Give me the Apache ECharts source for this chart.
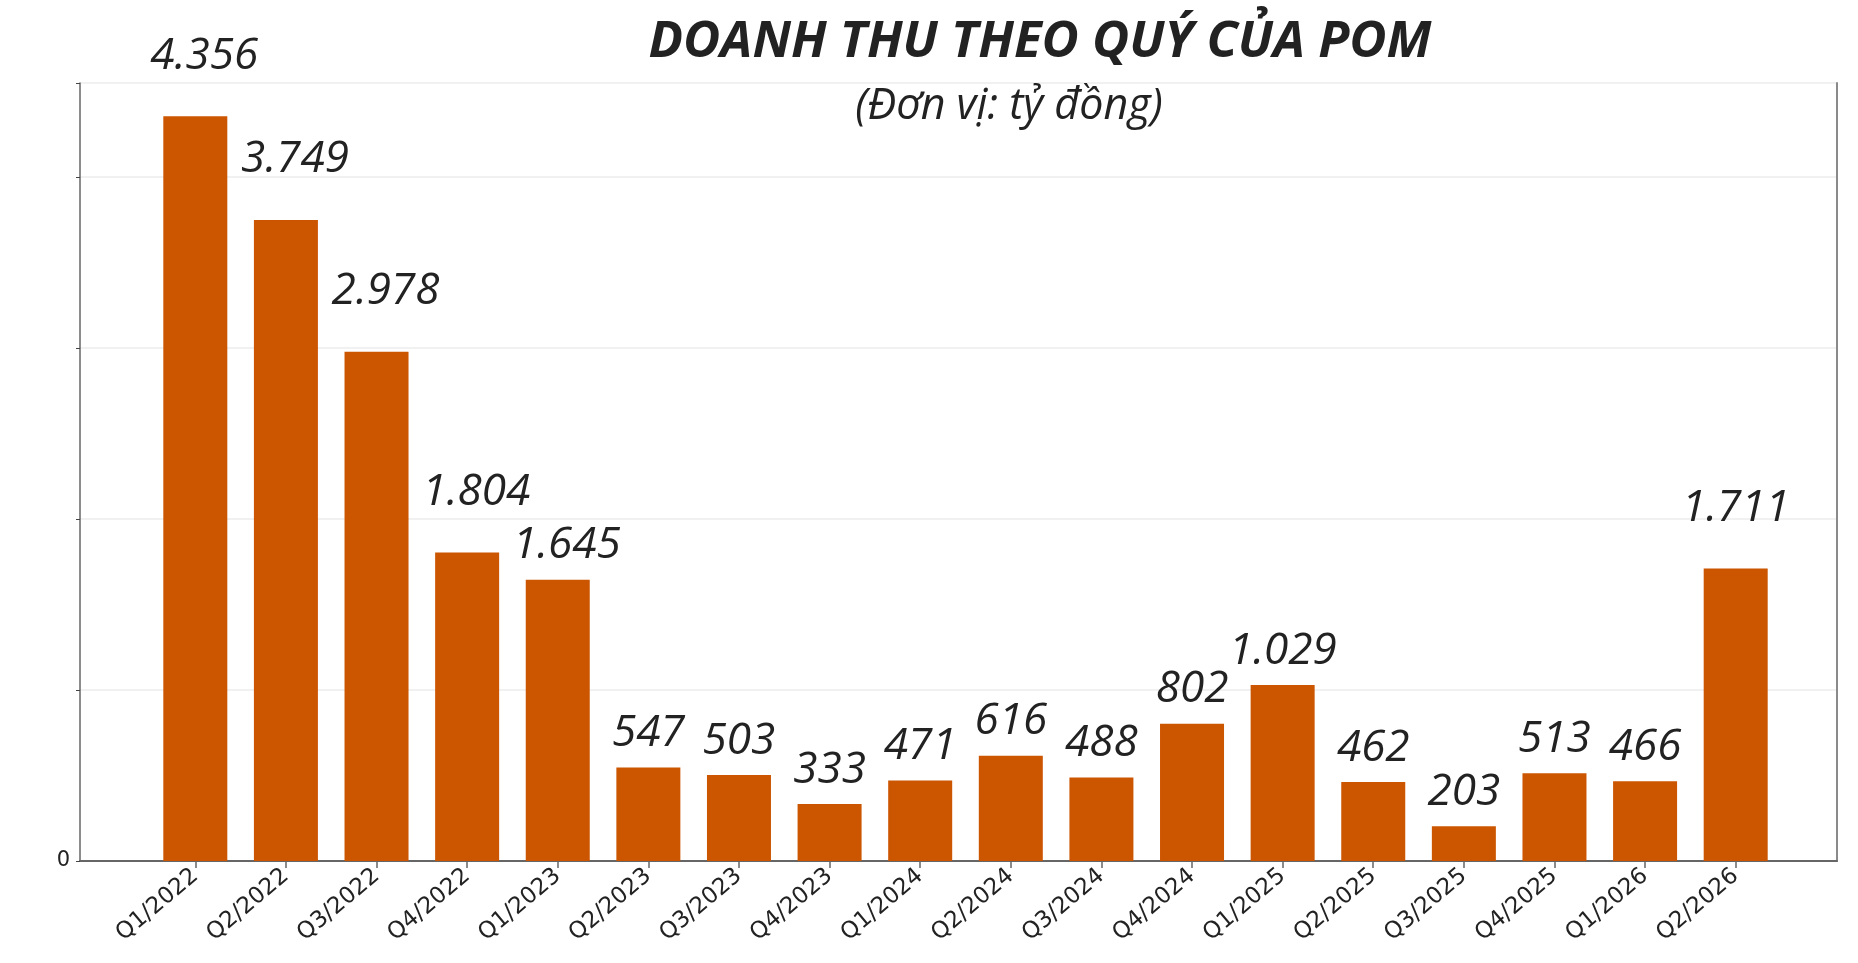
<!DOCTYPE html>
<html>
<head>
<meta charset="utf-8">
<script src="https://cdn.jsdelivr.net/npm/echarts@6/dist/echarts.min.js"></script>
<style>
html,body{margin:0;padding:0;background:#fff;}
#chart{width:1858px;height:963px;}
</style>
</head>
<body>
<div id="chart"></div>
<script>
const categories = ['Q1/2022','Q2/2022','Q3/2022','Q4/2022','Q1/2023','Q2/2023','Q3/2023','Q4/2023','Q1/2024','Q2/2024','Q3/2024','Q4/2024','Q1/2025','Q2/2025','Q3/2025','Q4/2025','Q1/2026','Q2/2026'];
const revenue = [4356, 3749, 2978, 1804, 1645, 547, 503, 333, 471, 616, 488, 802, 1029, 462, 203, 513, 466, 1711];
const valueLabels = ['4.356','3.749','2.978','1.804','1.645','547','503','333','471','616','488','802','1.029','462','203','513','466','1.711'];
const yMax = 4550;

const chart = echarts.init(document.getElementById('chart'));
const gridTop = 83, gridBottom = 102;

const barData = revenue.map((v, i) => ({
  value: v,
  label: {
    distance: v >= 1700 ? 38 : 12,
    offset: v >= 1600 && i < 5 ? [9, 0] : [0, 0],
    formatter: valueLabels[i]
  }
}));

chart.setOption({
  backgroundColor: '#ffffff',
  animation: false,
  title: [
    {
      text: 'DOANH THU THEO QUÝ CỦA POM',
      left: 1035, top: 12, textAlign: 'center',
      textStyle: { fontFamily: 'Open Sans', fontWeight: 'bold', fontStyle: 'italic', fontSize: 51, color: '#222222' }
    },
    {
      text: '(Đơn vị: tỷ đồng)',
      left: 1004, top: 80, textAlign: 'center',
      textStyle: { fontFamily: 'Open Sans', fontWeight: 'normal', fontStyle: 'italic', fontSize: 43, color: '#222222' }
    }
  ],
  grid: [
    { left: 80, right: 21, top: gridTop, bottom: gridBottom, containLabel: false },
    { left: 150, right: 77, top: gridTop, bottom: gridBottom, containLabel: false }
  ],
  xAxis: [
    {
      gridIndex: 0, type: 'value', min: 0, max: 1, position: 'bottom',
      axisLine: { show: true, lineStyle: { color: '#666666', width: 2 } },
      axisTick: { show: false }, axisLabel: { show: false }, splitLine: { show: false }
    },
    {
      gridIndex: 1, type: 'category', data: categories, position: 'bottom',
      axisLine: { show: false },
      axisTick: { show: true, alignWithLabel: true, length: 7, lineStyle: { color: '#666666', width: 1.5 } },
      axisLabel: { rotate: 40, fontFamily: 'DejaVu Sans', fontSize: 23, color: '#222222', margin: 12, interval: 0 },
      splitLine: { show: false }
    }
  ],
  yAxis: [
    {
      gridIndex: 0, type: 'value', min: 0, max: yMax, interval: 1000, position: 'left',
      axisLine: { show: true, lineStyle: { color: '#666666', width: 1.5 } },
      axisTick: { show: true, inside: false, length: 4, lineStyle: { color: '#444444' } },
      axisLabel: { show: true, fontFamily: 'DejaVu Sans', fontSize: 21, color: '#222222', margin: 10,
        formatter: v => (v === 0 ? '0' : '') },
      splitLine: { show: true, lineStyle: { color: '#ececec', width: 1.5 } }
    },
    {
      gridIndex: 0, type: 'value', min: 0, max: yMax, position: 'right',
      axisLine: { show: true, lineStyle: { color: '#8a8a8a', width: 2 } },
      axisTick: { show: false }, axisLabel: { show: false }, splitLine: { show: false }
    },
    {
      gridIndex: 1, type: 'value', min: 0, max: yMax, show: false
    }
  ],
  series: [
    {
      type: 'bar', xAxisIndex: 1, yAxisIndex: 2,
      data: barData,
      barWidth: 64,
      itemStyle: { color: '#cc5500' },
      label: {
        show: true, position: 'top',
        fontFamily: 'Open Sans', fontStyle: 'italic', fontSize: 44, color: '#222222'
      }
    }
  ]
});
</script>
</body>
</html>
